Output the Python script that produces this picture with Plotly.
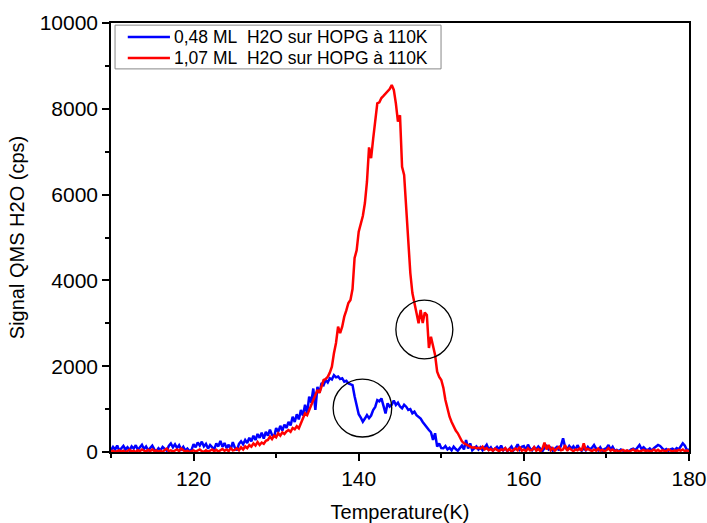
import plotly.graph_objects as go

# Temperature sampling of the TPD ramp (K)
t_start = 110.0
t_step = 0.25

# QMS H2O signal (cps), 0,48 ML H2O on HOPG, one row per kelvin
signal_048 = [
    40, 120, 60, 150,
    30, 90, 140, 60,
    110, 40, 130, 80,
    160, 50, 100, 170,
    70, 130, 40, 110,
    150, 60, 20, 90,
    40, 120, 70, 30,
    140, 200, 110, 180,
    90, 160, 60, 120,
    30, 80, 20, 50,
    180, 110, 220, 150,
    240, 130, 190, 80,
    160, 110, 60, 200,
    130, 260, 120, 210,
    90, 170, 60, 230,
    100, 40, 190, 250,
    180, 280, 210, 330,
    250, 380, 280, 420,
    330, 450, 310, 470,
    380, 520, 400, 350,
    560, 470, 610, 500,
    640, 560, 700, 620,
    820, 700, 880, 760,
    980, 850, 1100, 900,
    1290, 1150, 1480, 980,
    1520, 1380, 1610, 1560,
    1680, 1620, 1720, 1690,
    1790, 1740, 1760, 1700,
    1720, 1640, 1660, 1600,
    1580, 1560, 1300, 1060,
    880, 800, 707, 780,
    860, 790, 850, 980,
    1050, 1210, 1180, 1250,
    1100, 900, 1135, 1060,
    1100, 1200, 1096, 1150,
    1060, 1019, 1100, 1056,
    980, 1000, 902, 940,
    860, 823, 780, 700,
    629, 560, 513, 460,
    280, 436, 124, 200,
    90, 86, 140, 60,
    100, 40, 124, 70,
    30, 90, 150, 60,
    280, 80, 200, 40,
    90, 130, 60, 110,
    40, 100, 170, 60,
    110, 30, 80, 120,
    60, 150, 40, 90,
    20, 70, 130, 40,
    90, 180, 60, 120,
    140, 50, 170, 80,
    40, 110, 60, 130,
    70, 20, 90, 140,
    60, 100, 30, 80,
    120, 40, 150, 319,
    110, 60, 140, 80,
    130, 50, 160, 70,
    30, 90, 40, 120,
    60, 100, 163, 80,
    40, 110, 30, 70,
    90, 163, 60, 120,
    30, 50, 20, 60,
    40, 10, 30, 20,
    60, 80, 40, 90,
    163, 70, 110, 60,
    40, 80, 30, 90,
    120, 163, 140, 100,
    40, 70, 30, 60,
    80, 40, 90, 60,
    130, 203, 150, 40,
    60,
]

# QMS H2O signal (cps), 1,07 ML H2O on HOPG, one row per kelvin
signal_107 = [
    10, 30, 0, 20,
    40, 10, 30, 0,
    20, 50, 10, 30,
    0, 40, 20, 60,
    30, 10, 50, 20,
    60, 20, 40, 10,
    30, 0, 50, 80,
    20, 40, 10, 30,
    60, 20, 80, 40,
    10, 30, 0, 20,
    40, 10, 30, 60,
    20, 0, 40, 10,
    30, 60, 20, 50,
    10, 40, 70, 30,
    60, 20, 90, 40,
    50, 86, 40, 110,
    60, 130, 90, 160,
    124, 200, 150, 230,
    163, 220, 190, 260,
    280, 357, 300, 380,
    340, 436, 380, 460,
    420, 480, 513, 470,
    560, 530, 600, 552,
    669, 760, 902, 860,
    979, 1100, 1212, 1300,
    1445, 1380, 1550, 1678,
    1700, 1755, 1850, 1988,
    2300, 2541, 2920, 2770,
    2921, 3154, 3300, 3473,
    3543, 3800, 4522, 4700,
    5135, 5300, 5500, 5804,
    6300, 7100, 6850, 7300,
    7700, 8128, 8150, 8250,
    8300, 8350, 8420, 8460,
    8555, 8440, 8128, 7700,
    7850, 6650, 6457, 5641,
    4900, 4172, 3706, 3500,
    3240, 3000, 3310, 3007,
    3250, 3193, 2424, 2688,
    2500, 2261, 1872, 1750,
    1678, 1500, 1212, 1000,
    823, 700, 590, 500,
    436, 350, 250, 203,
    180, 150, 124, 100,
    110, 90, 100, 80,
    124, 60, 90, 40,
    70, 30, 80, 50,
    20, 60, 40, 90,
    30, 70, 10, 50,
    80, 40, 120, 30,
    60, 20, 90, 40,
    50, 110, 30, 70,
    20, 80, 217, 60,
    163, 40, 90, 30,
    70, 120, 40, 60,
    160, 30, 90, 50,
    20, 60, 40, 80,
    30, 203, 50, 70,
    40, 20, 60, 30,
    80, 30, 50, 20,
    40, 90, 30, 60,
    20, 40, 10, 30,
    50, 20, 40, 10,
    30, 60, 20, 40,
    10, 30, 50, 20,
    40, 20, 30, 60,
    20, 50, 10, 40,
    30, 20, 60, 30,
    10, 40, 20, 50,
    30, 60, 20, 40,
    10,
]

temperature = [t_start + t_step * i for i in range(len(signal_048))]

series_names = [
    "0,48 ML\u00a0 H2O sur HOPG à 110K",
    "1,07 ML\u00a0 H2O sur HOPG à 110K",
]
series_colors = ["#0000ff", "#ff0000"]

# Highlighted regions (x0, x1, y0, y1) in data units
circle_regions = [
    (136.9, 144.0, 350, 1700),
    (144.5, 151.4, 2170, 3540),
]

font_family = "Arial, 'Liberation Sans', sans-serif"

fig = go.Figure()
for name, color, values in zip(series_names, series_colors, [signal_048, signal_107]):
    fig.add_trace(go.Scatter(
        x=temperature, y=values, mode="lines", name=name,
        line=dict(color=color, width=2.5), showlegend=False,
    ))

for x0, x1, y0, y1 in circle_regions:
    fig.add_shape(type="circle", xref="x", yref="y",
                  x0=x0, x1=x1, y0=y0, y1=y1,
                  line=dict(color="black", width=1.3))

# Compact legend box in the upper-left corner of the plot area (paper units)
legend_box = dict(x0=0.007, x1=0.571, y0=0.893, y1=0.995)
legend_rows_y = [0.9674, 0.9184]
legend_line_x = (0.029, 0.102)
legend_text_x = 0.1055

fig.add_shape(type="rect", xref="paper", yref="paper", **legend_box,
              line=dict(color="#888888", width=1), fillcolor="white", layer="above")
for name, color, row_y in zip(series_names, series_colors, legend_rows_y):
    fig.add_shape(type="line", xref="paper", yref="paper",
                  x0=legend_line_x[0], x1=legend_line_x[1], y0=row_y, y1=row_y,
                  line=dict(color=color, width=2.5), layer="above")
    fig.add_annotation(xref="paper", yref="paper", x=legend_text_x, y=row_y,
                       xanchor="left", yanchor="middle", showarrow=False,
                       text=name, font=dict(family=font_family, size=17.5, color="black"))

axis_common = dict(
    showline=True, linecolor="black", linewidth=1.5, mirror=True,
    ticks="outside", ticklen=7, tickwidth=1.5, tickcolor="black",
    showgrid=False, zeroline=False, automargin=False,
    tickformat="d",
    tickfont=dict(family=font_family, size=21, color="black"),
)

fig.update_xaxes(
    range=[110, 180], dtick=20, tick0=120,
    minor=dict(dtick=10, tick0=110, ticks="outside", ticklen=4, tickwidth=1.5, tickcolor="black"),
    title=dict(text="Temperature(K)", font=dict(family=font_family, size=20, color="black"), standoff=16),
    **axis_common,
)
fig.update_yaxes(
    range=[0, 10000], dtick=2000,
    minor=dict(dtick=1000, ticks="outside", ticklen=4, tickwidth=1.5, tickcolor="black"),
    title=dict(text="Signal QMS H2O (cps)", font=dict(family=font_family, size=20, color="black"), standoff=10),
    **axis_common,
)

fig.update_layout(
    width=707, height=523,
    margin=dict(l=111, r=18, t=23, b=71),
    paper_bgcolor="white", plot_bgcolor="white",
    showlegend=False,
)

fig.write_html("out.html")
